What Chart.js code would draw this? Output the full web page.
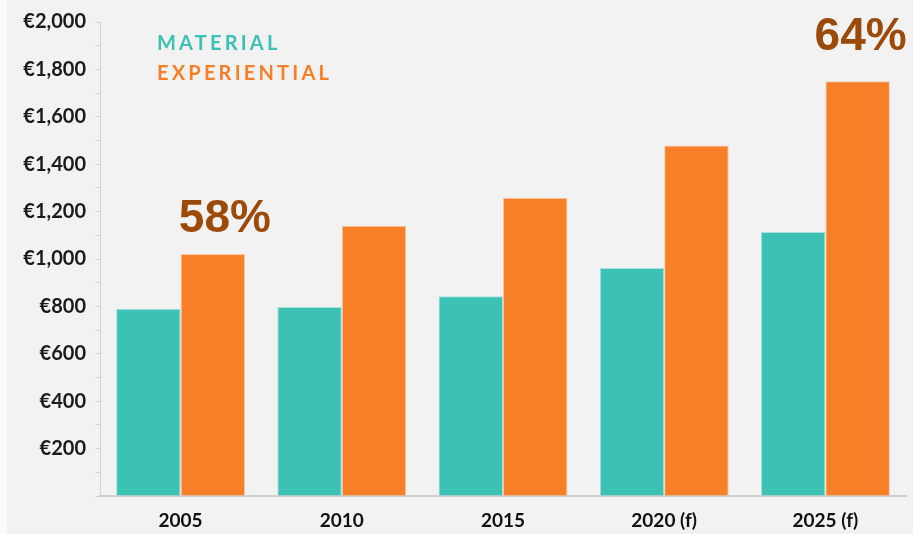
<!DOCTYPE html>
<html>
<head>
<meta charset="utf-8">
<script src="https://cdn.jsdelivr.net/npm/chart.js@4"></script>
<style>
  html, body { margin: 0; padding: 0; background: #f2f2f2; }
  #wrap { width: 913px; height: 534px; position: relative; border-left: 7px solid #fafafa; box-sizing: border-box; }
</style>
</head>
<body>
<div id="wrap"><canvas id="chart" width="906" height="534"></canvas></div>
<script>
const years = ['2005', '2010', '2015', '2020 (f)', '2025 (f)'];
const material = [790, 797, 843, 962, 1114];
const experiential = [1021, 1140, 1258, 1479, 1750];
const shareLabels = ['58%', '', '', '', '64%'];

const TEAL = '#3cc1b5';
const ORANGE = '#f67f27';

// legend text top-left and the share labels over the orange bars
const overlay = {
  id: 'overlay',
  afterDatasetsDraw(chart) {
    const ctx = chart.ctx;
    ctx.save();
    ctx.font = 'bold 20px Lato';
    ctx.textBaseline = 'middle';
    ctx.textAlign = 'left';
    if (ctx.letterSpacing !== undefined) ctx.letterSpacing = '3.2px';
    chart.data.datasets.forEach((ds, i) => {
      ctx.fillStyle = ds.backgroundColor;
      ctx.fillText(ds.label.toUpperCase(), 150, 44 + i * 30);
    });
    if (ctx.letterSpacing !== undefined) ctx.letterSpacing = '0px';

    ctx.font = 'bold 46px "Liberation Sans"';
    ctx.fillStyle = '#9c4a0a';
    ctx.textAlign = 'center';
    ctx.textBaseline = 'alphabetic';
    const meta = chart.getDatasetMeta(1);
    shareLabels.forEach((t, i) => {
      if (!t) return;
      const bar = meta.data[i];
      if (i === 0) ctx.fillText(t, bar.x + 12, bar.y - 22);
      else ctx.fillText(t, bar.x + 3, bar.y - 31);
    });
    ctx.restore();
  }
};

new Chart(document.getElementById('chart'), {
  type: 'bar',
  data: {
    labels: years,
    datasets: [
      {
        label: 'Material',
        data: material,
        backgroundColor: TEAL,
        borderColor: '#a9e2dc',
        borderWidth: 1
      },
      {
        label: 'Experiential',
        data: experiential,
        backgroundColor: ORANGE,
        borderColor: '#fbc6a0',
        borderWidth: 1
      }
    ]
  },
  options: {
    responsive: false,
    animation: false,
    layout: { padding: { top: 22, right: 7, left: 0, bottom: 0 } },
    datasets: { bar: { categoryPercentage: 0.8, barPercentage: 1.0 } },
    plugins: {
      legend: { display: false },
      tooltip: { enabled: false }
    },
    scales: {
      x: {
        grid: { display: false, drawTicks: false },
        border: { color: '#cfcfcf', width: 2 },
        ticks: {
          color: '#111',
          font: { family: 'Lato', weight: 'bold', size: 19 },
          padding: 13
        },
        afterFit: scale => { scale.height = 38; }
      },
      y: {
        min: 0,
        max: 2000,
        grid: { drawOnChartArea: false, color: '#d4d4d4', tickLength: 5 },
        border: { color: '#d4d4d4' },
        ticks: {
          stepSize: 100,
          autoSkip: false,
          color: '#1a1a1a',
          font: { family: 'Lato', weight: 'bold', size: 20 },
          padding: 9,
          callback: v => (v > 0 && v % 200 === 0) ? '€' + v.toLocaleString('en-US') : ''
        },
        afterFit: scale => { scale.width = 93; }
      }
    }
  },
  plugins: [overlay]
});
</script>
</body>
</html>
